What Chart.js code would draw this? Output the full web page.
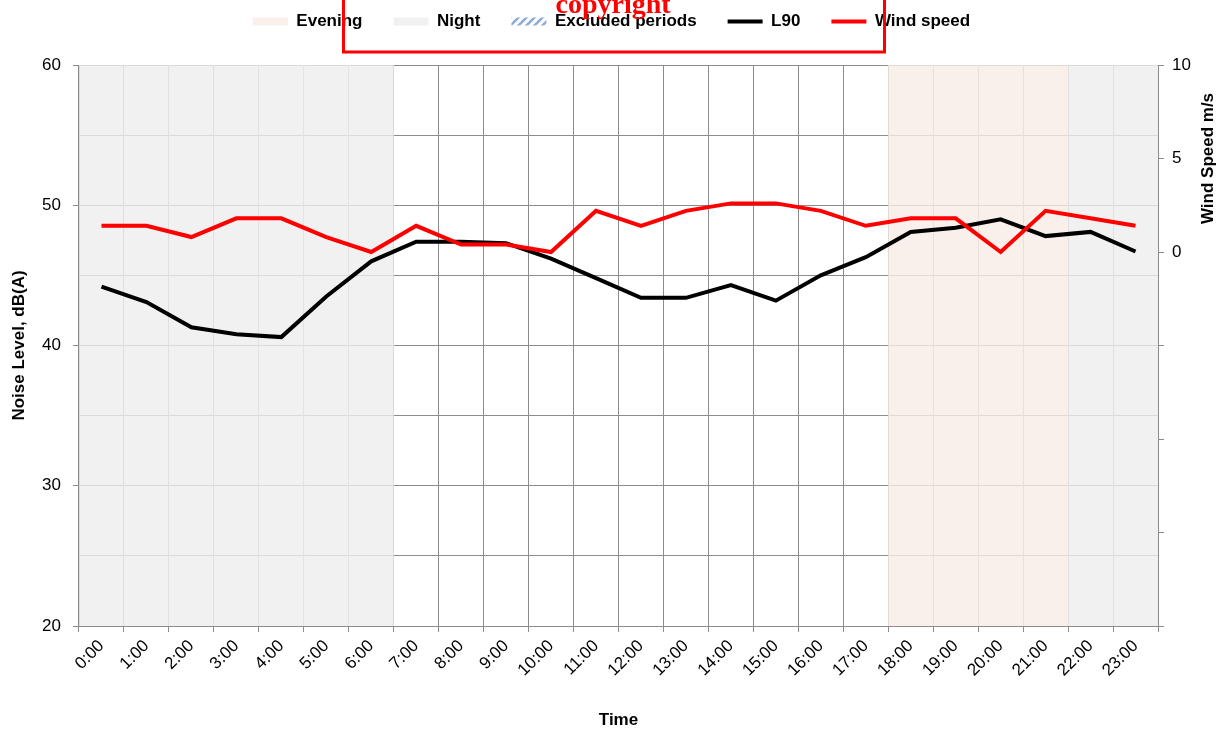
<!DOCTYPE html>
<html>
<head>
<meta charset="utf-8">
<script src="https://cdn.jsdelivr.net/npm/chart.js@4/dist/chart.umd.min.js"></script>
<style>
  body { margin: 0; background: #fff; }
  #wrap { width: 1223px; height: 731px; position: relative; }
</style>
</head>
<body>
<div id="wrap"><canvas id="noise-chart" width="1223" height="731"></canvas></div>
<script>
const hours = ["0:00", "1:00", "2:00", "3:00", "4:00", "5:00", "6:00", "7:00", "8:00", "9:00", "10:00", "11:00",
  "12:00", "13:00", "14:00", "15:00", "16:00", "17:00", "18:00", "19:00", "20:00", "21:00", "22:00", "23:00"]

// L90 noise level, dB(A)
const l90 = [44.2, 43.1, 41.3, 40.8, 40.6, 43.5, 46.0, 47.4, 47.4, 47.3, 46.2, 44.8,
  43.4, 43.4, 44.3, 43.2, 45.0, 46.3, 48.1, 48.4, 49.0, 47.8, 48.1, 46.7]

// wind speed, m/s (right axis)
const windSpeed = [1.4, 1.4, 0.8, 1.8, 1.8, 0.8, 0.0, 1.4, 0.4, 0.4, 0.0, 2.2,
  1.4, 2.2, 2.6, 2.6, 2.2, 1.4, 1.8, 1.8, 0.0, 2.2, 1.8, 1.4]

// shaded periods, drawn as full height columns on the left axis
const eveningBand = [null, null, null, null, null, null, null, null, null, null, null, null,
  null, null, null, null, null, null, 60, 60, 60, 60, null, null]
const nightBand = [60, 60, 60, 60, 60, 60, 60, null, null, null, null, null,
  null, null, null, null, null, null, null, null, null, null, 60, 60]
const excludedBand = new Array(24).fill(null)

const leftTicks = [20, 30, 40, 50, 60]
const rightTicks = [0, 5, 10]

const gridGray = "#8c8c8c"

Chart.defaults.font.family = "'Liberation Sans', Arial, sans-serif"
Chart.defaults.color = "#000"

function hatch() {
  const c = document.createElement("canvas")
  c.width = 8
  c.height = 8
  const g = c.getContext("2d")
  g.fillStyle = "#fff"
  g.fillRect(0, 0, 8, 8)
  g.strokeStyle = "#8eaadb"
  g.lineWidth = 2.5
  g.beginPath()
  g.moveTo(-2, 10)
  g.lineTo(10, -2)
  g.moveTo(-2, 2)
  g.lineTo(2, -2)
  g.moveTo(6, 10)
  g.lineTo(10, 6)
  g.stroke()
  return g.createPattern(c, "repeat")
}

// extra room under the legend so the plot starts lower
const legendSpace = {
  id: "legendSpace",
  beforeLayout(chart) {
    const lg = chart.legend
    if (lg && !lg._patched) {
      const fit = lg.fit
      lg.fit = function () {
        fit.call(this)
        this.height += 25
      }
      lg._patched = true
    }
  }
}

const overlayText = {
  id: "overlayText",
  afterDraw(chart) {
    const ctx = chart.ctx
    const y2 = chart.scales.y2
    ctx.save()
    // right axis title, reads bottom to top like the left one
    ctx.fillStyle = "#000"
    ctx.font = "bold 17px 'Liberation Sans', Arial, sans-serif"
    ctx.textAlign = "center"
    ctx.textBaseline = "middle"
    ctx.translate(1208, (y2.getPixelForValue(0) + y2.getPixelForValue(10)) / 2)
    ctx.rotate(-Math.PI / 2)
    ctx.fillText("Wind Speed m/s", 0, 0)
    ctx.restore()

    ctx.save()
    ctx.strokeStyle = "#ff0000"
    ctx.lineWidth = 3
    ctx.strokeRect(343.5, -10, 541, 62)
    ctx.fillStyle = "#ff0000"
    ctx.font = "bold 28px 'Liberation Serif', 'Times New Roman', serif"
    ctx.textAlign = "center"
    ctx.textBaseline = "alphabetic"
    ctx.fillText("copyright", 613, 13)
    ctx.restore()
  }
}

const bandOpts = { type: "bar", yAxisID: "y", grouped: false, barPercentage: 1, categoryPercentage: 1, borderWidth: 0, order: 2 }

new Chart("noise-chart", {
  data: {
    labels: hours,
    datasets: [
      { ...bandOpts, label: "Evening", data: eveningBand, backgroundColor: "rgba(248,236,230,0.8)" },
      { ...bandOpts, label: "Night", data: nightBand, backgroundColor: "rgba(238,238,238,0.8)" },
      { ...bandOpts, label: "Excluded periods", data: excludedBand, backgroundColor: hatch() },
      {
        type: "line", label: "L90", data: l90, yAxisID: "y", borderColor: "#000", backgroundColor: "#000",
        borderWidth: 4, pointRadius: 0, tension: 0, order: 1
      },
      {
        type: "line", label: "Wind speed", data: windSpeed, yAxisID: "y2", borderColor: "#ff0000", backgroundColor: "#ff0000",
        borderWidth: 4, pointRadius: 0, tension: 0, order: 0
      }
    ]
  },
  options: {
    responsive: false,
    animation: false,
    layout: { padding: { top: -18, left: 0, right: 0, bottom: 0 } },
    plugins: {
      tooltip: { enabled: false },
      legend: {
        position: "top",
        labels: {
          usePointStyle: true,
          pointStyleWidth: 35,
          boxHeight: 8,
          padding: 31,
          font: { size: 17, weight: "bold" },
          sort: (a, b) => a.datasetIndex - b.datasetIndex,
          generateLabels(chart) {
            const items = Chart.defaults.plugins.legend.labels.generateLabels(chart)
            items.forEach((it) => {
              const ds = chart.data.datasets[it.datasetIndex]
              if (ds.type === "line") {
                it.pointStyle = "line"
                it.strokeStyle = ds.borderColor
                it.lineWidth = 4
              } else {
                it.pointStyle = "rect"
                it.fillStyle = ds.backgroundColor
                it.lineWidth = 0
                it.strokeStyle = "rgba(0,0,0,0)"
              }
            })
            return items
          }
        }
      }
    },
    scales: {
      x: {
        type: "category",
        offset: true,
        grid: { color: gridGray, offset: true, tickLength: 6 },
        border: { color: gridGray },
        ticks: { maxRotation: 45, minRotation: 45, autoSkip: false, font: { size: 17 }, padding: 4 },
        title: { display: true, text: "Time", font: { size: 17, weight: "bold" }, padding: { top: 0, bottom: 0 } },
        afterFit(scale) { scale.height = 105 }
      },
      y: {
        position: "left",
        min: 20,
        max: 60,
        ticks: {
          stepSize: 5,
          font: { size: 17 },
          padding: 12,
          callback: (v) => leftTicks.includes(v) ? v : ""
        },
        grid: {
          color: gridGray,
          tickLength: 6,
          tickColor: (c) => leftTicks.includes(c.tick.value) ? gridGray : "rgba(0,0,0,0)"
        },
        border: { color: gridGray },
        title: { display: true, text: "Noise Level, dB(A)", font: { size: 17, weight: "bold" }, padding: { top: 9, bottom: 0 } },
        afterFit(scale) { scale.width = 79 }
      },
      y2: {
        position: "right",
        min: -20,
        max: 10,
        ticks: {
          stepSize: 5,
          font: { size: 17 },
          padding: 8,
          callback: (v) => rightTicks.includes(v) ? v : ""
        },
        grid: { drawOnChartArea: false, color: gridGray, tickLength: 6 },
        border: { color: gridGray },
        title: { display: false },
        afterFit(scale) { scale.width = 65 }
      }
    }
  },
  plugins: [legendSpace, overlayText]
})
</script>
</body>
</html>
